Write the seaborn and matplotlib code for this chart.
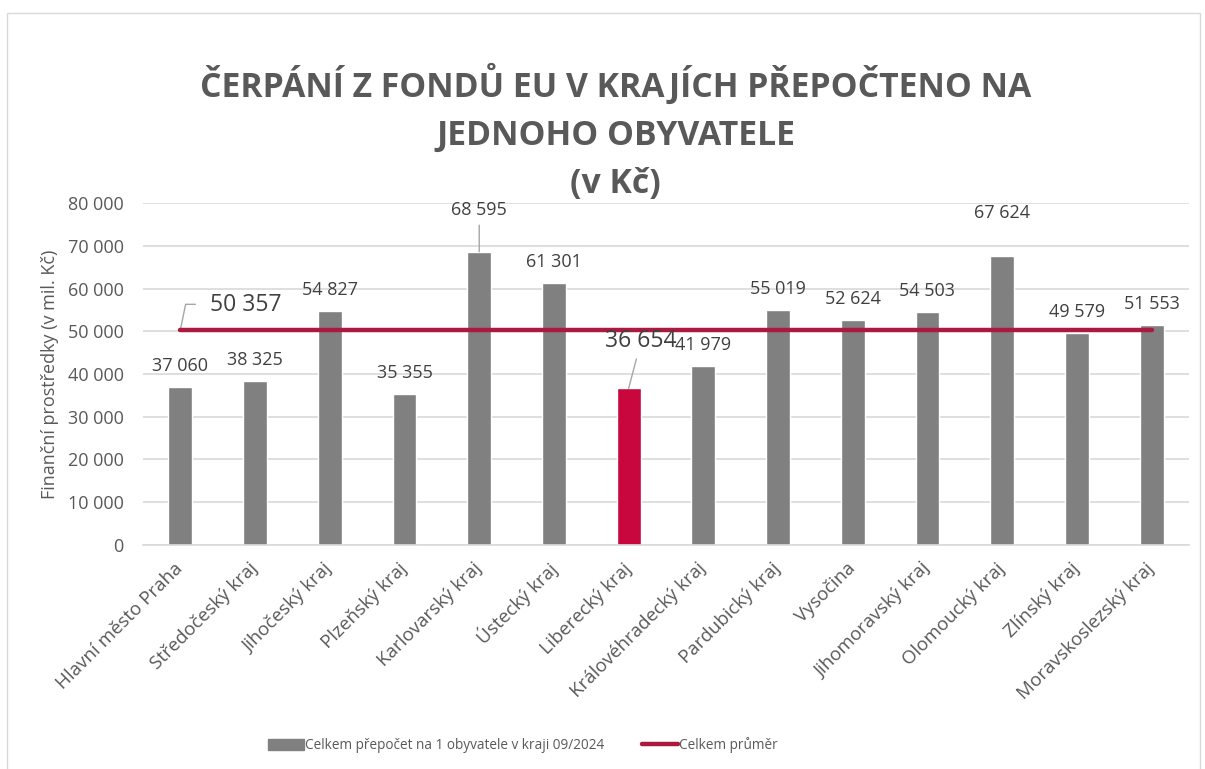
import matplotlib
matplotlib.use('Agg')
import matplotlib.pyplot as plt
import matplotlib.patches as mpatches
import matplotlib.lines as mlines
import seaborn as sns
import pandas as pd

# Data
regions = ['Hlavní město Praha', 'Středočeský kraj', 'Jihočeský kraj', 'Plzeňský kraj',
           'Karlovarský kraj', 'Ústecký kraj', 'Liberecký kraj', 'Královéhradecký kraj',
           'Pardubický kraj', 'Vysočina', 'Jihomoravský kraj', 'Olomoucký kraj',
           'Zlínský kraj', 'Moravskoslezský kraj']
per_capita = [37060, 38325, 54827, 35355, 68595, 61301, 36654, 41979,
              55019, 52624, 54503, 67624, 49579, 51553]
average = 50357
highlight = 'Liberecký kraj'

GRAY_TXT = '#595959'
BAR_GRAY = '#808080'
BAR_RED = '#C8073F'
LINE_RED = '#AB1940'

sns.set_style('white')
plt.rcParams['font.family'] = ['Open Sans', 'DejaVu Sans']


def fmt(v):
    return f'{v:,}'.replace(',', ' ')


df = pd.DataFrame({'kraj': regions, 'hodnota': per_capita})
palette = {r: (BAR_RED if r == highlight else BAR_GRAY) for r in regions}

fig = plt.figure(figsize=(12.05, 7.69), dpi=100)
ax = fig.add_axes([0.1187, 0.2913, 0.868, 0.4447])

sns.barplot(data=df, x='kraj', y='hodnota', hue='kraj', palette=palette,
            width=0.32, legend=False, ax=ax, saturation=1)

# průměr
ax.plot([0, len(regions) - 1], [average, average], color=LINE_RED, linewidth=3.2,
        solid_capstyle='round', zorder=3)

ax.set_ylim(0, 80000)
ax.set_xlim(-0.5, len(regions) - 0.5)
ax.set_yticks(range(0, 80001, 10000))
ax.set_yticklabels([fmt(v) for v in range(0, 80001, 10000)])
ax.yaxis.grid(True, color='#D9D9D9', linewidth=1.2)
ax.set_axisbelow(True)
for s in ['top', 'right', 'left']:
    ax.spines[s].set_visible(False)
ax.spines['bottom'].set_color('#D9D9D9')
ax.spines['bottom'].set_linewidth(1.2)
ax.tick_params(axis='both', length=0, colors=GRAY_TXT, labelsize=13)
ax.tick_params(axis='y', pad=14)
ax.tick_params(axis='x', pad=15, labelsize=13.5)
plt.setp(ax.get_xticklabels(), rotation=45, ha='right', va='center', rotation_mode='anchor')
ax.set_xlabel('')
ax.set_ylabel('Finanční prostředky (v mil. Kč)', color=GRAY_TXT, fontsize=13, labelpad=6)

# popisky hodnot
for i, v in enumerate(per_capita):
    if regions[i] == 'Karlovarský kraj':
        ax.annotate(fmt(v), xy=(i, v), xytext=(0, 30), textcoords='offset points',
                    ha='center', va='center', fontsize=13, color='#404040',
                    arrowprops=dict(arrowstyle='-', color='#A6A6A6', lw=1, shrinkA=2, shrinkB=0))
    elif regions[i] == 'Olomoucký kraj':
        ax.annotate(fmt(v), xy=(i, v), xytext=(0, 31), textcoords='offset points',
                    ha='center', va='center', fontsize=13, color='#404040')
    elif regions[i] == highlight:
        ax.annotate(fmt(v), xy=(i, v), xytext=(9, 34), textcoords='offset points',
                    ha='center', va='center', fontsize=16.5, color='#404040',
                    arrowprops=dict(arrowstyle='-', color='#A6A6A6', lw=1, shrinkA=2, shrinkB=0))
    else:
        ax.annotate(fmt(v), xy=(i, v), xytext=(0, 15), textcoords='offset points',
                    ha='center', va='center', fontsize=13, color='#404040')

ax.annotate(fmt(average), xy=(0, average), xytext=(47, 18),
            textcoords='offset points', ha='center', va='center', fontsize=16.5, color='#404040')
ax.plot([0, 0.07, 0.2], [average, 56300, 56300], color='#A6A6A6', lw=1, zorder=2)

# titulek
fig.text(0.511, 0.828, 'ČERPÁNÍ Z FONDŮ EU V KRAJÍCH PŘEPOČTENO NA\nJEDNOHO OBYVATELE\n(v Kč)',
         ha='center', va='center', fontsize=24.3, fontweight='bold', color=GRAY_TXT,
         linespacing=1.55)

# legenda
handles = [mpatches.Patch(color=BAR_GRAY, label='Celkem přepočet na 1 obyvatele v kraji 09/2024'),
           mlines.Line2D([], [], color=LINE_RED, linewidth=3.2, solid_capstyle='round',
                         label='Celkem průměr')]
fig.legend(handles=handles, loc='center', bbox_to_anchor=(0.434, 0.031), ncol=2,
           frameon=False, fontsize=9.8, labelcolor=GRAY_TXT, handlelength=2.6,
           handleheight=0.9, handletextpad=0.1, columnspacing=2.8)

# rámeček grafu
fig.patches.append(mpatches.Rectangle((0.006, -0.01), 0.99, 0.993, transform=fig.transFigure,
                                      fill=False, edgecolor='#D9D9D9', linewidth=1))

fig.savefig('out.png', dpi=100)
